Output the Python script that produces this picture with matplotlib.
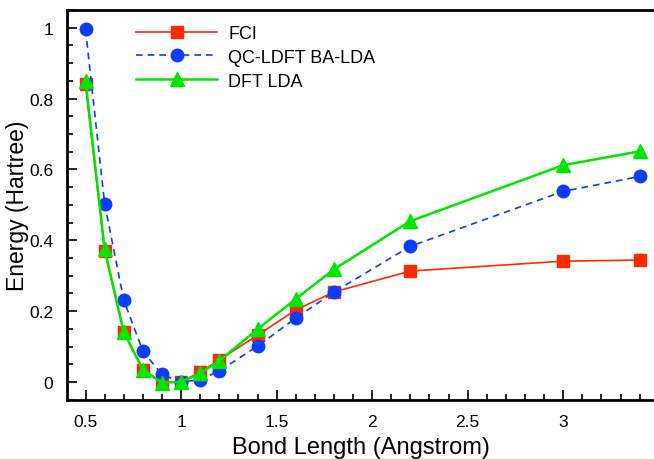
import matplotlib
matplotlib.use("Agg")
import matplotlib.pyplot as plt
from matplotlib.ticker import MultipleLocator, FixedLocator

plt.rcParams['font.family'] = ['Liberation Sans', 'DejaVu Sans']

bond = [0.5, 0.6, 0.7, 0.8, 0.9, 1.0, 1.1, 1.2, 1.4, 1.6, 1.8, 2.2, 3.0, 3.4]
fci = [0.84, 0.37, 0.141, 0.034, 0.0, 0.0, 0.028, 0.062, 0.132, 0.203, 0.254, 0.313, 0.341, 0.344]
qc = [0.995, 0.503, 0.231, 0.087, 0.021, 0.0, 0.006, 0.031, 0.101, 0.18, 0.254, 0.383, 0.538, 0.58]
dft = [0.85, 0.375, 0.141, 0.034, -0.002, 0.0, 0.025, 0.059, 0.149, 0.234, 0.318, 0.454, 0.612, 0.651]

xticks = [0.5, 1, 1.5, 2, 2.5, 3]
xticklabels = ["0.5", "1", "1.5", "2", "2.5", "3"]
yticks = [0, 0.2, 0.4, 0.6, 0.8, 1.0]
yticklabels = ["0", "0.2", "0.4", "0.6", "0.8", "1"]

fig = plt.figure(figsize=(6.54, 4.6), dpi=100)
ax = fig.add_axes([67/654, 1 - 401/460, (654 - 67)/654, (401 - 11)/460])

ax.plot(bond, fci, color='#ff2a00', lw=1.2, marker='s', ms=8.5, mec='#ff2a00', mfc='#ff2a00', label='FCI')
ax.plot(bond, qc, color='#0a3cff', lw=1.2, ls=(0, (4, 3)), marker='o', ms=9, mec='#0a3cff', mfc='#0a3cff', label='QC-LDFT BA-LDA')
ax.plot(bond, dft, color='#00e600', lw=1.8, marker='^', ms=10, mec='#00e600', mfc='#00e600', label='DFT LDA')

ax.set_xlim(0.403, 3.475)
ax.set_ylim(-0.051, 1.05)
ax.xaxis.set_major_locator(FixedLocator(xticks))
ax.set_xticklabels(xticklabels)
ax.yaxis.set_major_locator(FixedLocator(yticks))
ax.set_yticklabels(yticklabels)
ax.xaxis.set_minor_locator(MultipleLocator(0.1))
ax.yaxis.set_minor_locator(MultipleLocator(0.05))
ax.tick_params(which='both', direction='in', top=False, right=False, labelsize=12.5, width=1.2)
ax.tick_params(which='major', length=7, pad=10)
ax.tick_params(which='minor', length=4)
for s in ax.spines.values():
    s.set_linewidth(2)
ax.spines['right'].set_visible(False)

ax.set_xlabel('Bond Length (Angstrom)', fontsize=17, labelpad=5)
ax.set_ylabel('Energy (Hartree)', fontsize=16.5, labelpad=0)

ax.legend(loc='upper left', bbox_to_anchor=((136 - 67) / 587, 0.962), frameon=False, fontsize=13,
          handlelength=4.5, handletextpad=0.6, labelspacing=0.38, borderpad=0, borderaxespad=0)

fig.savefig('out.png', dpi=100)
